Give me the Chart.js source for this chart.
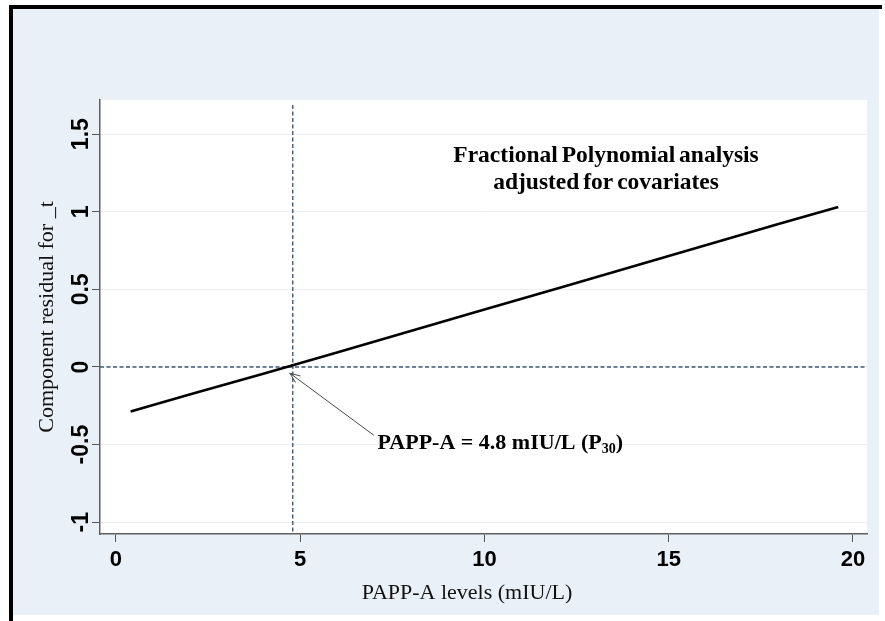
<!DOCTYPE html>
<html>
<head>
<meta charset="utf-8">
<script src="https://cdn.jsdelivr.net/npm/chart.js@4.4.1/dist/chart.umd.min.js"></script>
<style>
  html, body { margin: 0; padding: 0; background: #ffffff; }
  #wrap { width: 885px; height: 621px; position: relative; }
  canvas { display: block; }
</style>
</head>
<body>
<div id="wrap"><canvas id="chart" width="885" height="621"></canvas></div>
<script>
// Fitted component residual curve (PAPP-A level vs component residual)
const fitX = [0.4, 2, 4, 6, 8, 10, 12, 14, 16, 18, 19.6];
const fitY = [-0.287, -0.178, -0.043, 0.094, 0.232, 0.370, 0.508, 0.646, 0.784, 0.922, 1.030];

// Axis ticks
const xTicks = [0, 5, 10, 15, 20];
const yTicks = [-1, -0.5, 0, 0.5, 1, 1.5];
const yTickLabels = ['-1', '-0.5', '0', '0.5', '1', '1.5'];

// Reference lines: cut-off level and zero residual
const cutoffValue = 4.8;
const zeroLine = 0;

// Texts
const noteLines = ['Fractional Polynomial analysis', 'adjusted for covariates'];
const cutoffText = ['PAPP-A = 4.8 mIU/L (P', '30', ')'];
const xTitle = 'PAPP-A levels (mIU/L)';
const yTitle = 'Component residual for _t';

const BG = '#e9f0f7';
const SERIF = '"Liberation Serif", "Times New Roman", serif';
const SANS = '"Liberation Sans", Arial, sans-serif';

const framePlugin = {
  id: 'frame',
  beforeDraw(chart) {
    const ctx = chart.ctx;
    const a = chart.chartArea;
    ctx.save();
    ctx.fillStyle = '#ffffff';
    ctx.fillRect(0, 0, chart.width, chart.height);
    ctx.fillStyle = BG;
    ctx.fillRect(13, 9, 866, 606);
    ctx.fillStyle = '#000000';
    ctx.fillRect(9, 5, 873, 4);
    ctx.fillRect(9, 5, 4, chart.height - 5);
    ctx.fillStyle = '#ffffff';
    ctx.fillRect(a.left, a.top, a.right - a.left, a.bottom - a.top);
    ctx.restore();
  }
};

const overlayPlugin = {
  id: 'overlay',
  beforeDatasetsDraw(chart) {
    const ctx = chart.ctx;
    const a = chart.chartArea;
    const xs = chart.scales.x, ys = chart.scales.y;
    ctx.save();
    ctx.strokeStyle = '#3e5a78';
    ctx.lineWidth = 1.4;
    ctx.setLineDash([4, 2.5]);
    const vx = xs.getPixelForValue(cutoffValue);
    ctx.beginPath();
    ctx.moveTo(vx, a.top + 5);
    ctx.lineTo(vx, a.bottom);
    ctx.stroke();
    const hy = ys.getPixelForValue(zeroLine);
    ctx.beginPath();
    ctx.moveTo(a.left, hy);
    ctx.lineTo(a.right, hy);
    ctx.stroke();
    ctx.restore();
  },
  afterDraw(chart) {
    const ctx = chart.ctx;
    const a = chart.chartArea;
    const xs = chart.scales.x, ys = chart.scales.y;
    ctx.save();

    // rotated y tick labels
    ctx.fillStyle = '#000000';
    ctx.font = 'bold 23px ' + SANS;
    ctx.textAlign = 'center';
    ctx.textBaseline = 'alphabetic';
    yTicks.forEach((v, i) => {
      const py = ys.getPixelForValue(v);
      ctx.save();
      ctx.translate(88, py);
      ctx.rotate(-Math.PI / 2);
      ctx.fillText(yTickLabels[i], 0, 0);
      ctx.restore();
    });

    // x axis title
    ctx.fillStyle = '#111111';
    ctx.font = '22px ' + SERIF;
    ctx.textAlign = 'center';
    ctx.fillText(xTitle, 467, 599);

    // note in the upper right of the plot
    ctx.fillStyle = '#000000';
    ctx.font = 'bold 23.5px ' + SERIF;
    ctx.textAlign = 'center';
    ctx.textBaseline = 'alphabetic';
    if ('wordSpacing' in ctx) ctx.wordSpacing = '-2px';
    const nx = xs.getPixelForValue(13.3);
    ctx.fillText(noteLines[0], nx, ys.getPixelForValue(1.32));
    ctx.fillText(noteLines[1], nx, ys.getPixelForValue(1.145));
    if ('wordSpacing' in ctx) ctx.wordSpacing = '0px';

    // cut-off label with subscript
    const tx = xs.getPixelForValue(7.1);
    const ty = ys.getPixelForValue(-0.53);
    ctx.textAlign = 'left';
    ctx.font = 'bold 22px ' + SERIF;
    ctx.fillText(cutoffText[0], tx, ty);
    let w = ctx.measureText(cutoffText[0]).width;
    ctx.font = 'bold 14px ' + SERIF;
    ctx.fillText(cutoffText[1], tx + w, ty + 4);
    w += ctx.measureText(cutoffText[1]).width;
    ctx.font = 'bold 22px ' + SERIF;
    ctx.fillText(cutoffText[2], tx + w, ty);

    // arrow from the label to the crossing point
    const ax0 = xs.getPixelForValue(7.0), ay0 = ys.getPixelForValue(-0.44);
    const ax1 = xs.getPixelForValue(4.72), ay1 = ys.getPixelForValue(-0.04);
    ctx.strokeStyle = '#4a4a4a';
    ctx.lineWidth = 1;
    ctx.beginPath();
    ctx.moveTo(ax0, ay0);
    ctx.lineTo(ax1, ay1);
    ctx.stroke();
    const ang = Math.atan2(ay1 - ay0, ax1 - ax0);
    const hl = 11, ha = 0.38;
    ctx.beginPath();
    ctx.moveTo(ax1 - hl * Math.cos(ang - ha), ay1 - hl * Math.sin(ang - ha));
    ctx.lineTo(ax1, ay1);
    ctx.lineTo(ax1 - hl * Math.cos(ang + ha), ay1 - hl * Math.sin(ang + ha));
    ctx.stroke();
    ctx.restore();
  }
};

const chart = new Chart(document.getElementById('chart'), {
  type: 'line',
  data: {
    datasets: [{
      data: fitX.map((x, i) => ({ x: x, y: fitY[i] })),
      borderColor: '#000000',
      borderWidth: 2.6,
      pointRadius: 0,
      tension: 0,
      fill: false
    }]
  },
  options: {
    responsive: false,
    animation: false,
    devicePixelRatio: 1,
    layout: { padding: { left: 28, right: 18, top: 100, bottom: 14 } },
    plugins: { legend: { display: false }, tooltip: { enabled: false } },
    scales: {
      x: {
        type: 'linear',
        min: -0.43,
        max: 20.38,
        afterBuildTicks(scale) { scale.ticks = xTicks.map(v => ({ value: v })); },
        afterFit(scale) { scale.height = 73; },
        grid: { drawOnChartArea: false, tickLength: 8, tickColor: '#555555', tickWidth: 1 },
        border: { display: true, color: '#5f5f5f', width: 1.5 },
        ticks: {
          color: '#000000',
          padding: 5,
          font: { family: SANS, size: 22, weight: 'bold' },
          maxRotation: 0,
          callback: v => String(v)
        },
        title: { display: false }
      },
      y: {
        type: 'linear',
        min: -1.076,
        max: 1.72,
        afterBuildTicks(scale) { scale.ticks = yTicks.map(v => ({ value: v })); },
        afterFit(scale) { scale.width = 72; },
        grid: {
          drawOnChartArea: true,
          color: '#eceff2',
          lineWidth: 1,
          tickLength: 8,
          tickColor: '#555555',
          tickWidth: 1
        },
        border: { display: true, color: '#5f5f5f', width: 1.5 },
        ticks: { display: false },
        title: {
          display: true,
          text: yTitle,
          color: '#111111',
          font: { family: SERIF, size: 22 },
          padding: { top: 6, bottom: 0 }
        }
      }
    }
  },
  plugins: [framePlugin, overlayPlugin]
});
</script>
</body>
</html>
